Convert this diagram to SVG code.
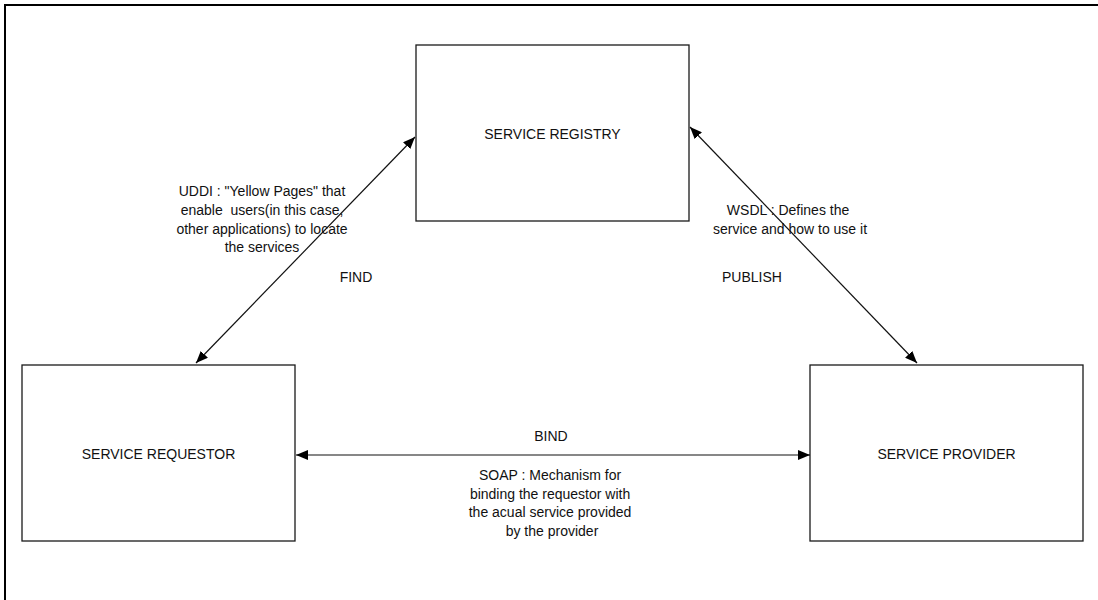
<svg xmlns="http://www.w3.org/2000/svg" width="1098" height="600" viewBox="0 0 1098 600">
  <style>
    .box { fill: #ffffff; stroke: #1a1a1a; stroke-width: 1.3; }
    .lbl { font-family: "Liberation Sans", Arial, sans-serif; font-size: 14px; fill: #111111; text-anchor: middle; }
    .conn { stroke: #111111; stroke-width: 1.2; fill: none; marker-start: url(#head); marker-end: url(#head); }
  </style>
  <defs>
    <marker id="head" viewBox="0 0 12 10" refX="12" refY="5" markerWidth="12" markerHeight="10" markerUnits="userSpaceOnUse" orient="auto-start-reverse">
      <path d="M0,0 L12,5 L0,10 z" fill="#000000"/>
    </marker>
  </defs>
  <rect x="0" y="0" width="1098" height="600" fill="#ffffff"/>
  <!-- page frame -->
  <path d="M5,610 L5,5 L1110,5" fill="none" stroke="#000000" stroke-width="2"/>

  <g id="registry">
    <rect class="box" x="416" y="45" width="273" height="176"/>
    <text class="lbl" x="552.5" y="139">SERVICE REGISTRY</text>
  </g>
  <g id="requestor">
    <rect class="box" x="22" y="365" width="273" height="176"/>
    <text class="lbl" x="158.5" y="459">SERVICE REQUESTOR</text>
  </g>
  <g id="provider">
    <rect class="box" x="810" y="365" width="273" height="176"/>
    <text class="lbl" x="946.5" y="459">SERVICE PROVIDER</text>
  </g>

  <g id="connectors">
    <line class="conn" x1="196" y1="363" x2="415" y2="137"/>
    <line class="conn" x1="917" y1="363" x2="690" y2="127"/>
    <line class="conn" x1="296" y1="455" x2="810" y2="455"/>
  </g>

  <g id="labels">
    <text class="lbl" xml:space="preserve"><tspan x="262" y="196">UDDI : "Yellow Pages" that</tspan><tspan x="262" y="215">enable  users(in this case,</tspan><tspan x="262" y="234">other applications) to locate</tspan><tspan x="262" y="252">the services</tspan></text>
    <text class="lbl" x="356" y="282">FIND</text>
    <text class="lbl" x="752" y="282">PUBLISH</text>
    <text class="lbl">
      <tspan x="790" y="215">WSDL : Defines the</tspan>
      <tspan x="790" y="234">service and how to use it</tspan>
    </text>
    <text class="lbl" x="551" y="441">BIND</text>
    <text class="lbl">
      <tspan x="552" y="480">SOAP : Mechanism for</tspan>
      <tspan x="552" y="499">binding the requestor with</tspan>
      <tspan x="552" y="517">the acual service provided</tspan>
      <tspan x="552" y="536">by the provider</tspan>
    </text>
  </g>
</svg>
